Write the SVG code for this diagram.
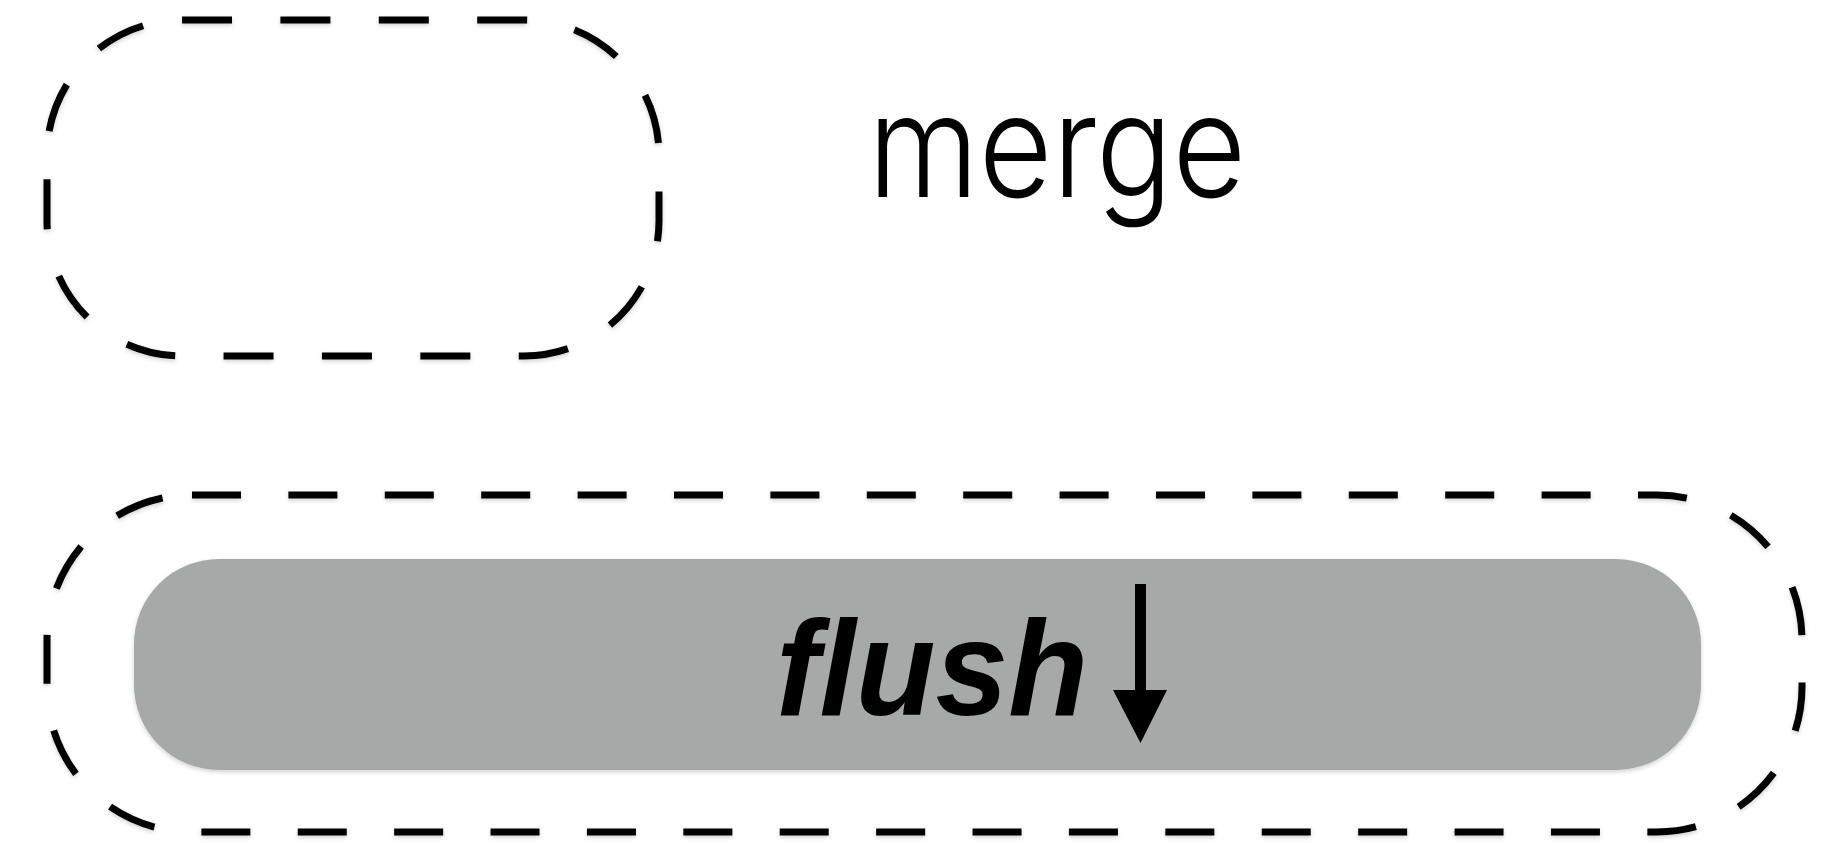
<svg xmlns="http://www.w3.org/2000/svg" width="1829" height="843" viewBox="0 0 1829 843">
  <defs>
    <style>
      .dashbox { fill: none; stroke: #000; stroke-width: 7; }
      .label-light { font-family: Inter, "Liberation Sans", Arial, sans-serif; font-weight: 300; font-size: 142px; fill: #000; }
      .label-bold { font-family: "Liberation Sans", Arial, sans-serif; font-weight: bold; font-style: italic; font-size: 136px; fill: #000; }
    </style>
    <filter id="shadow" x="-5%" y="-10%" width="110%" height="125%">
      <feDropShadow dx="0" dy="2" stdDeviation="2" flood-color="#000" flood-opacity="0.18"/>
    </filter>
  </defs>
  <rect width="1829" height="843" fill="#fff"/>

  <g id="merge-node">
    <rect class="dashbox" x="47" y="20" width="612" height="336" rx="135" ry="135" stroke-dasharray="50 48.4" filter="url(#shadow)"/>
  </g>

  <g id="merge-label">
    <text class="label-light" x="868" y="197" textLength="378" lengthAdjust="spacingAndGlyphs">merge</text>
  </g>

  <g id="flush-group">
    <rect class="dashbox" x="47" y="495" width="1755" height="337" rx="145" ry="145" stroke-dasharray="49 47.4" filter="url(#shadow)"/>
  </g>

  <g id="flush-node">
    <rect x="134" y="559" width="1567" height="211" rx="85" ry="85" fill="#a6a9a8" filter="url(#shadow)"/>
    <text class="label-bold" x="776" y="715" textLength="312" lengthAdjust="spacingAndGlyphs">flush</text>
  </g>

  <g id="connectors">
    <path d="M1135 584 H1146 V690 H1167 L1140.5 743 L1113 690 H1135 Z" fill="#000"/>
  </g>
</svg>
